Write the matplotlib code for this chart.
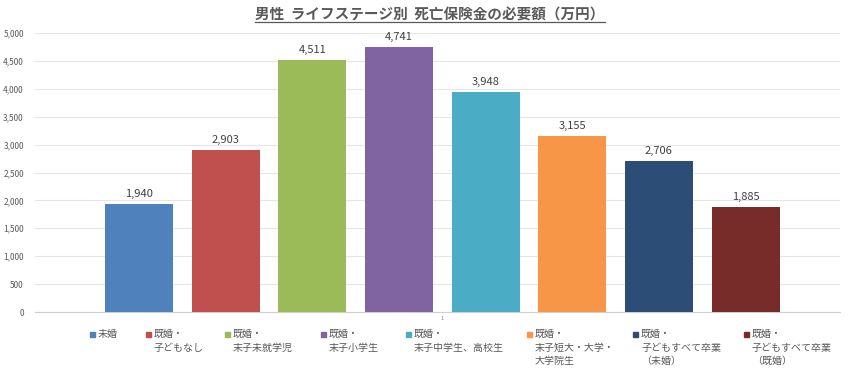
import matplotlib
matplotlib.use("Agg")
import matplotlib.pyplot as plt
from matplotlib.patches import Rectangle

plt.rcParams['font.family'] = ['Noto Sans CJK JP', 'DejaVu Sans']

title = "男性  ライフステージ別  死亡保険金の必要額（万円）"
series_labels = [
    "未婚",
    "既婚・\n子どもなし",
    "既婚・\n末子未就学児",
    "既婚・\n末子小学生",
    "既婚・\n末子中学生、高校生",
    "既婚・\n末子短大・大学・\n大学院生",
    "既婚・\n子どもすべて卒業\n（未婚）",
    "既婚・\n子どもすべて卒業\n（既婚）",
]
values = [1940, 2903, 4511, 4741, 3948, 3155, 2706, 1885]
colors = ["#4F81BD", "#C0504D", "#9BBB59", "#8064A2", "#4BACC6", "#F79646", "#2C4D75", "#772C2A"]
yticks = [0, 500, 1000, 1500, 2000, 2500, 3000, 3500, 4000, 4500, 5000]
category = "1"

W, H = 860, 369
fig = plt.figure(figsize=(W / 100, H / 100), dpi=100)
ax = fig.add_axes([35 / W, (H - 312) / H, (840 - 35) / W, (312 - 33) / H])

for i, (v, c) in enumerate(zip(values, colors)):
    ax.bar(i, v, width=0.785, color=c, zorder=3)
    ax.text(i, v + 90, f"{v:,}", ha="center", va="bottom", fontsize=8, color="#404040")

ax.set_xlim(-1.2, 8.09)
ax.set_ylim(0, 5000)
ax.set_yticks(yticks)
ax.set_yticklabels([f"{t:,}" for t in yticks], fontsize=6, color="#595959")
ax.tick_params(axis="y", length=0, pad=8)
ax.set_xticks([3.5])
ax.set_xticklabels([category], fontsize=4, color="#808080")
ax.tick_params(axis="x", length=0, pad=3)
ax.grid(axis="y", color="#E6E6E6", linewidth=0.8, zorder=0)
for s in ["top", "right", "left"]:
    ax.spines[s].set_visible(False)
ax.spines["bottom"].set_color("#D0D0D0")
ax.spines["bottom"].set_linewidth(0.8)

t = fig.text(430 / W, 1 - 15 / H, title, ha="center", va="center", fontsize=10.5,
             fontweight="bold", color="#595959")

# underline title
fig.canvas.draw()
bb = t.get_window_extent()
fig.add_artist(plt.Line2D([bb.x0 / W, bb.x1 / W], [(bb.y0 + 1) / H, (bb.y0 + 1) / H],
                          color="#595959", linewidth=0.9, transform=fig.transFigure))

# legend
marker_x = [90, 146, 225, 321, 406, 527, 633, 744]
for mx, lab, c in zip(marker_x, series_labels, colors):
    fig.add_artist(Rectangle((mx / W, 1 - 337 / H), 5 / W, 5 / H, color=c,
                             transform=fig.transFigure))
    for k, line in enumerate(lab.split("\n")):
        fig.text((mx + 8) / W, 1 - (334 + 13.5 * k) / H, line, ha="left", va="center",
                 fontsize=7.2, color="#595959")

fig.savefig("out.png", dpi=100)
